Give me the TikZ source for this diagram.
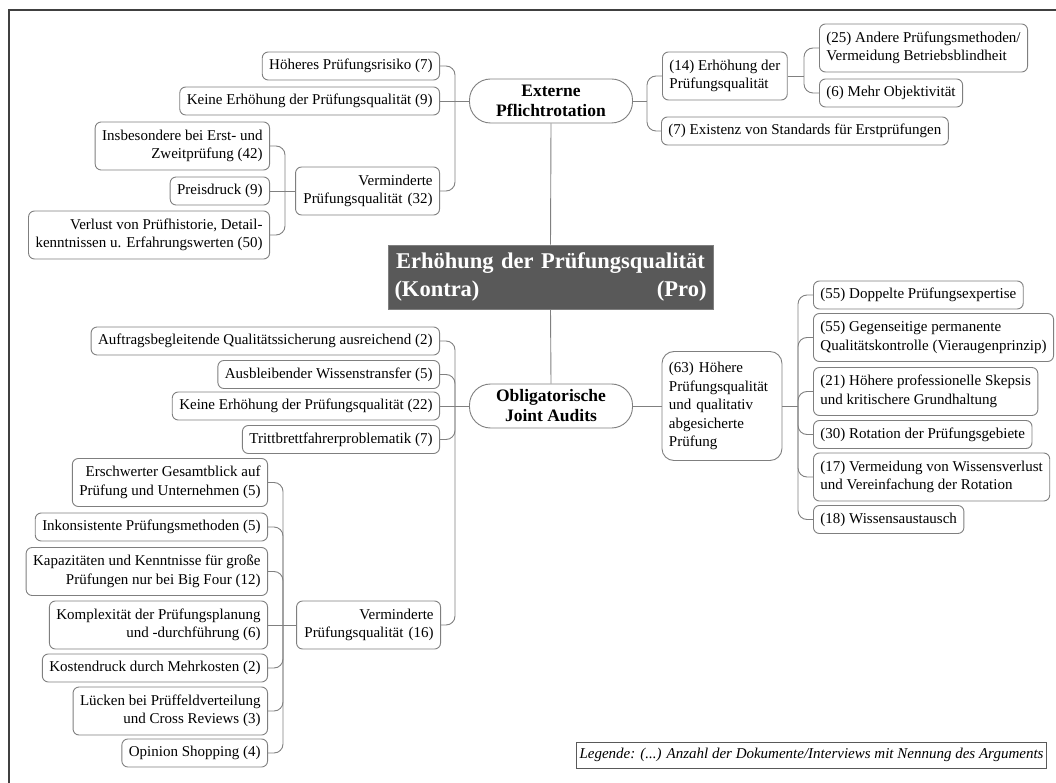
\documentclass[tikz,border=0pt]{standalone}
\usepackage{fontspec}
\setmainfont{Liberation Serif}
\definecolor{linegray}{HTML}{808080}
\definecolor{boxgray}{HTML}{7F7F7F}
\definecolor{darkfill}{HTML}{595959}
\definecolor{framegray}{HTML}{404040}
\begin{document}
\begin{tikzpicture}[x=1pt,y=-1pt,
  conn/.style={draw=linegray, line width=0.9pt, rounded corners=9pt},
  box/.style={draw=boxgray, line width=0.9pt, fill=white, rounded corners=6pt,
    inner xsep=7pt, inner ysep=3pt, minimum height=28pt,
    font=\fontsize{15}{18.5}\selectfont},
  lbox/.style={box, align=right, anchor=east},
  rbox/.style={box, align=left, anchor=west},
  two/.style={minimum height=48pt},
  topic/.style={draw=boxgray, line width=0.9pt, fill=white, rounded corners=21pt,
    minimum width=163pt, minimum height=44pt, inner sep=2pt, align=center,
    font=\fontsize{17.5}{20}\selectfont\bfseries},
  rootbox/.style={draw=boxgray, line width=0.9pt, fill=darkfill, text=white,
    text width=312pt, inner xsep=6.5pt, inner ysep=2pt, minimum height=64pt,
    align=center, font=\fontsize{22.5}{28}\selectfont\bfseries},
  legendbox/.style={draw=darkfill, line width=0.9pt, fill=white, inner xsep=3pt,
    minimum height=26pt, font=\fontsize{15}{18}\selectfont\itshape}
]
\useasboundingbox (0,0) rectangle (1056,783);

% partial frame
\draw[framegray, line width=1.5pt] (9,783) -- (9,10) -- (1056,10);

% central topic and the two main branches
\node[rootbox] (root) at (550.5,277) {Erhöhung der Prüfungsqualität\\(Kontra)\hfill(Pro)};
\node[topic] (ext) at (551,101) {Externe\\Pflichtrotation};
\node[topic] (ja) at (551,406) {Obligatorische\\Joint Audits};

% Externe Pflichtrotation: contra
\node[lbox] (hr) at (440,66) {Höheres Prüfungsrisiko (7)};
\node[lbox] (ke9) at (440,101) {Keine Erhöhung der Prüfungsqualität (9)};
\node[lbox, two, text width=130pt] (vq32) at (440,191) {Verminderte\\Prüfungsqualität (32)};
\node[lbox, two] (ins) at (270,146) {Insbesondere bei Erst- und\\Zweitprüfung (42)};
\node[lbox] (pd) at (270,191) {Preisdruck (9)};
\node[lbox, two] (vl) at (270,235) {Verlust von Prüfhistorie, Detail-\\kenntnissen u. Erfahrungswerten (50)};

% Externe Pflichtrotation: pro
\node[rbox, two] (eq14) at (662,76) {(14) Erhöhung der\\Prüfungsqualität};
\node[rbox] (es7) at (661,131) {(7) Existenz von Standards für Erstprüfungen};
\node[rbox, two] (ap25) at (819,48) {(25) Andere Prüfungsmethoden/\\Vermeidung Betriebsblindheit};
\node[rbox] (mo6) at (819,93) {(6) Mehr Objektivität};

% Joint Audits: contra
\node[lbox] (aq) at (440,341) {Auftragsbegleitende Qualitätssicherung ausreichend (2)};
\node[lbox] (aw) at (440,374.5) {Ausbleibender Wissenstransfer (5)};
\node[lbox] (ke22) at (440,406) {Keine Erhöhung der Prüfungsqualität (22)};
\node[lbox] (tb) at (440,439.5) {Trittbrettfahrerproblematik (7)};
\node[lbox, two, text width=130pt] (vq16) at (441,625) {Verminderte\\Prüfungsqualität (16)};
\node[lbox, two] (eg) at (268,482.5) {Erschwerter Gesamtblick auf\\Prüfung und Unternehmen (5)};
\node[lbox] (ip) at (268,527) {Inkonsistente Prüfungsmethoden (5)};
\node[lbox, two] (kk) at (268,571.5) {Kapazitäten und Kenntnisse für große\\Prüfungen nur bei Big Four (12)};
\node[lbox, two] (kp) at (268,625) {Komplexität der Prüfungsplanung\\und -durchführung (6)};
\node[lbox] (km) at (268,668) {Kostendruck durch Mehrkosten (2)};
\node[lbox, two] (lp) at (268,711) {Lücken bei Prüffeldverteilung\\und Cross Reviews (3)};
\node[lbox] (os) at (268,753) {Opinion Shopping (4)};

% Joint Audits: pro
\node[rbox, text width=106pt, minimum height=109pt, rounded corners=12pt] (hq63) at (661.5,406)
  {(63) Höhere\\Prüfungsqualität\\und qualitativ\\abgesicherte\\Prüfung};
\node[rbox] (dp) at (813,295) {(55) Doppelte Prüfungsexpertise};
\node[rbox, two] (gq) at (813,337.5) {(55) Gegenseitige permanente\\Qualitätskontrolle (Vieraugenprinzip)};
\node[rbox, two] (ps) at (813,391.5) {(21) Höhere professionelle Skepsis\\und kritischere Grundhaltung};
\node[rbox] (rp) at (813,434.5) {(30) Rotation der Prüfungsgebiete};
\node[rbox, two] (wv) at (813,477) {(17) Vermeidung von Wissensverlust\\und Vereinfachung der Rotation};
\node[rbox] (wa) at (813,519.5) {(18) Wissensaustausch};

% legend
\node[legendbox] (leg) at (811.5,755) {Legende: (...) Anzahl der Dokumente/Interviews mit Nennung des Arguments};

% spine points
\coordinate (sA) at (455,101);
\coordinate (sD) at (285,191);
\coordinate (sE) at (647,101);
\coordinate (sF) at (804,76);
\coordinate (sB) at (455,406);
\coordinate (sC) at (283,625);
\coordinate (sG) at (798,406);

% trunk
\draw[conn] (ext.south) -- (root.north);
\draw[conn] (root.south) -- (ja.north);

% Externe Pflichtrotation connectors
\draw[conn] (ext.west) -- (ke9.east);
\draw[conn] (sA) |- (hr.east);
\draw[conn] (sA) |- (vq32.east);
\draw[conn] (vq32.west) -- (pd.east);
\draw[conn] (sD) |- (ins.east);
\draw[conn] (sD) |- (vl.east);
\draw[conn] (ext.east) -- (sE);
\draw[conn] (sE) |- (eq14.west);
\draw[conn] (sE) |- (es7.west);
\draw[conn] (eq14.east) -- (sF);
\draw[conn] (sF) |- (ap25.west);
\draw[conn] (sF) |- (mo6.west);

% Joint Audits connectors
\draw[conn] (ja.west) -- (ke22.east);
\draw[conn] (sB) |- (aq.east);
\draw[conn] (sB) |- (aw.east);
\draw[conn] (sB) |- (tb.east);
\draw[conn] (sB) |- (vq16.east);
\draw[conn] (vq16.west) -- (kp.east);
\draw[conn] (sC) |- (eg.east);
\draw[conn] (sC) |- (ip.east);
\draw[conn] (sC) |- (kk.east);
\draw[conn] (sC) |- (km.east);
\draw[conn] (sC) |- (lp.east);
\draw[conn] (sC) |- (os.east);
\draw[conn] (ja.east) -- (hq63.west);
\draw[conn] (hq63.east) -- (sG);
\draw[conn] (sG) |- (dp.west);
\draw[conn] (sG) |- (gq.west);
\draw[conn] (sG) |- (ps.west);
\draw[conn] (sG) |- (rp.west);
\draw[conn] (sG) |- (wv.west);
\draw[conn] (sG) |- (wa.west);
\end{tikzpicture}
\end{document}
